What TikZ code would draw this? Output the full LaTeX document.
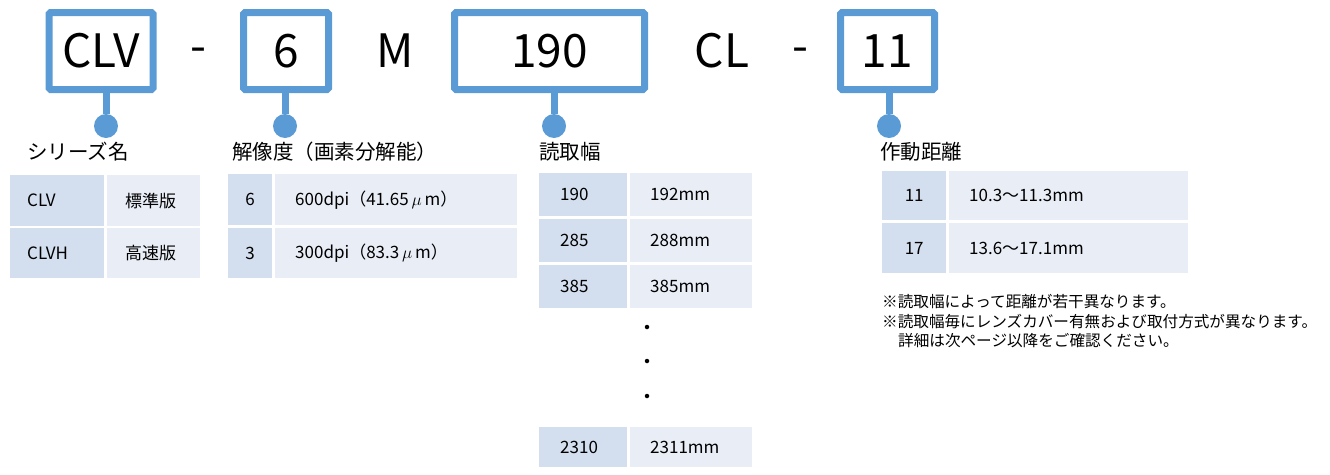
\documentclass[tikz,border=0pt]{standalone}
\usepackage{fontspec}
\setmainfont{Noto Sans CJK JP}
\usetikzlibrary{positioning}
\definecolor{codeblue}{HTML}{5B9BD5}
\definecolor{celldark}{HTML}{D3DEEE}
\definecolor{celllight}{HTML}{E9EDF6}
\tikzset{
  codebox/.style={draw=codeblue, line width=7pt, rounded corners=1.5pt, minimum height=77pt, inner sep=0pt, font=\fontsize{46}{46}\selectfont},
  codetext/.style={inner sep=0pt, font=\fontsize{46}{46}\selectfont},
  pin/.style={circle, fill=codeblue, minimum size=24pt, inner sep=0pt},
  stem/.style={codeblue, line width=7pt},
  caption/.style={anchor=west, inner sep=0pt, font=\fontsize{20.5}{20.5}\selectfont},
  cellbase/.style={anchor=north west, inner ysep=0pt, align=left, font=\fontsize{17}{17}\selectfont},
  dcell/.style={cellbase, fill=celldark},
  lcell/.style={cellbase, fill=celllight},
  vdot/.style={circle, fill=black, minimum size=4.5pt, inner sep=0pt},
  note/.style={anchor=west, inner sep=0pt, font=\fontsize{15.6}{15.6}\selectfont}
}
\begin{document}
\begin{tikzpicture}[x=1pt,y=-1pt]
  \useasboundingbox (0,0) rectangle (1330,474);
  %型式コード
  \node[codebox, minimum width=104pt] (series) at (101,51) {CLV};
  \node[codetext, anchor=base] (dash1) at (198,62) {-};
  \node[codebox, minimum width=85pt] (reso) at (286,51) {6};
  \node[codetext] (mlet) at (395,51) {M};
  \node[codebox, minimum width=190pt] (width) at (549.5,51) {190};
  \node[codetext] (cllet) at (722,51) {CL};
  \node[codetext, anchor=base] (dash2) at (800,62) {-};
  \node[codebox, minimum width=94pt] (wd) at (887.5,51) {11};
  %ピン
  \node[pin] (pseries) at (106,126) {};
  \node[pin] (preso) at (285,126) {};
  \node[pin] (pwidth) at (554,126) {};
  \node[pin] (pwd) at (889,126) {};
  \draw[stem] (series.south -| pseries) -- (pseries);
  \draw[stem] (reso.south -| preso) -- (preso);
  \draw[stem] (width.south -| pwidth) -- (pwidth);
  \draw[stem] (wd.south -| pwd) -- (pwd);
  %見出し
  \node[caption] (cseries) at (27,152) {シリーズ名};
  \node[caption] (creso) at (232,152) {解像度（画素分解能）};
  \node[caption] (cwidth) at (539,152) {読取幅};
  \node[caption] (cwd) at (880,152) {作動距離};
  %シリーズ名の表
  \node[dcell, minimum height=51pt, text width=60pt, inner xsep=17pt] (s1a) at (10,175) {CLV};
  \node[lcell, minimum height=51pt, text width=57pt, inner xsep=18pt] (s1b) at (107,175) {標準版};
  \node[dcell, minimum height=50pt, text width=60pt, inner xsep=17pt] (s2a) at (10,228) {CLVH};
  \node[lcell, minimum height=50pt, text width=57pt, inner xsep=18pt] (s2b) at (107,228) {高速版};
  %解像度の表
  \node[dcell, minimum height=51pt, text width=44pt, inner xsep=0pt, align=center] (r1a) at (228,174) {6};
  \node[lcell, minimum height=51pt, text width=202pt, inner xsep=20pt] (r1b) at (275,174) {600dpi（41.65\,$\mu$\,m）};
  \node[dcell, minimum height=50pt, text width=44pt, inner xsep=0pt, align=center] (r2a) at (228,228) {3};
  \node[lcell, minimum height=50pt, text width=202pt, inner xsep=20pt] (r2b) at (275,228) {300dpi（83.3\,$\mu$\,m）};
  %読取幅の表
  \node[dcell, minimum height=43pt, text width=46pt, inner xsep=21pt] (w1a) at (539,173) {190};
  \node[lcell, minimum height=43pt, text width=82pt, inner xsep=20pt] (w1b) at (630,173) {192mm};
  \node[dcell, minimum height=43pt, text width=46pt, inner xsep=21pt] (w2a) at (539,219) {285};
  \node[lcell, minimum height=43pt, text width=82pt, inner xsep=20pt] (w2b) at (630,219) {288mm};
  \node[dcell, minimum height=43pt, text width=46pt, inner xsep=21pt] (w3a) at (539,265) {385};
  \node[lcell, minimum height=43pt, text width=82pt, inner xsep=20pt] (w3b) at (630,265) {385mm};
  \node[vdot] (d1) at (647,327) {};
  \node[vdot] (d2) at (647,361) {};
  \node[vdot] (d3) at (647,396) {};
  \node[dcell, minimum height=40pt, text width=46pt, inner xsep=21pt] (w4a) at (539,427) {2310};
  \node[lcell, minimum height=40pt, text width=82pt, inner xsep=20pt] (w4b) at (630,427) {2311mm};
  %作動距離の表
  \node[dcell, minimum height=49pt, text width=64pt, inner xsep=0pt, align=center] (d1a) at (882,171) {11};
  \node[lcell, minimum height=49pt, text width=199pt, inner xsep=20pt] (d1b) at (949,171) {10.3～11.3mm};
  \node[dcell, minimum height=50pt, text width=64pt, inner xsep=0pt, align=center] (d2a) at (882,223) {17};
  \node[lcell, minimum height=50pt, text width=199pt, inner xsep=20pt] (d2b) at (949,223) {13.6～17.1mm};
  %注記
  \node[note] (n1) at (882,302) {※読取幅によって距離が若干異なります。};
  \node[note] (n2) at (882,322) {※読取幅毎にレンズカバー有無および取付方式が異なります。};
  \node[note] (n3) at (898,341) {詳細は次ページ以降をご確認ください。};
\end{tikzpicture}
\end{document}
